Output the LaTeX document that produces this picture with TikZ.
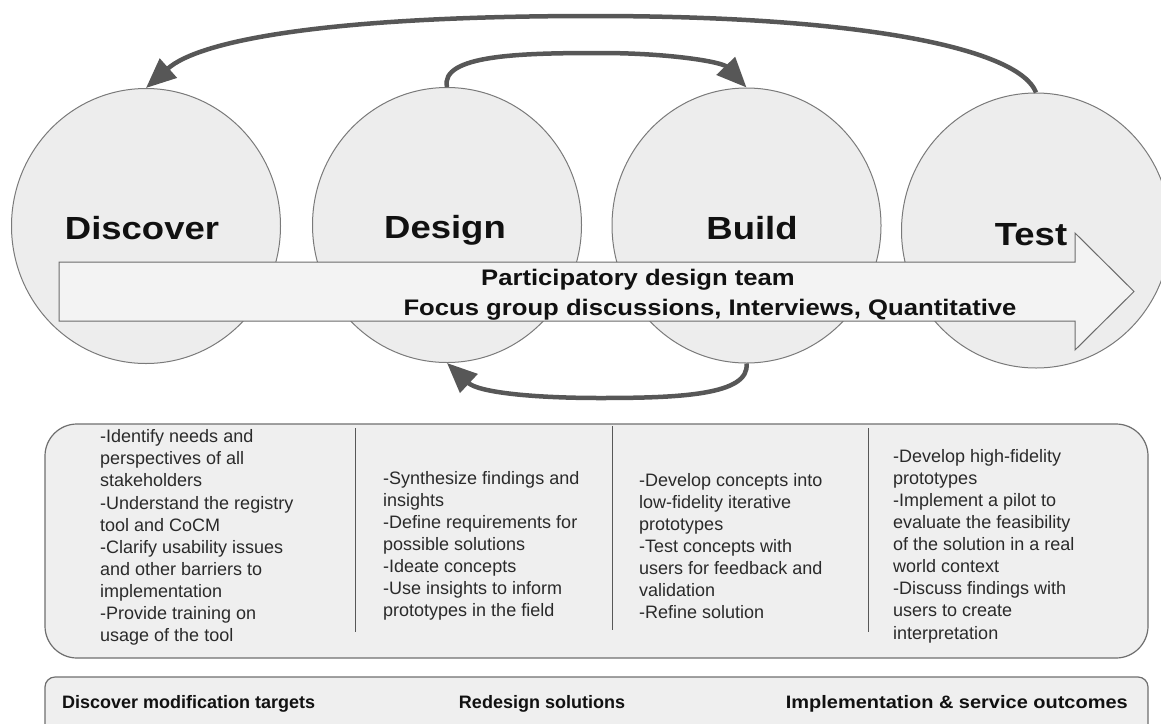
\documentclass[tikz,border=0pt]{standalone}
\usepackage{fontspec}
\setmainfont{Liberation Sans}
\newfontfamily\titlefont[FakeStretch=1.14]{Liberation Sans}
\newfontfamily\widebarfont[FakeStretch=1.11]{Liberation Sans}
\usetikzlibrary{shapes.geometric,arrows.meta}
\definecolor{ellfill}{HTML}{EDEDED}
\definecolor{elldraw}{HTML}{7A7A7A}
\definecolor{arrfill}{HTML}{F3F3F3}
\definecolor{arrdraw}{HTML}{6B6B6B}
\definecolor{arccol}{HTML}{575757}
\definecolor{boxfill}{HTML}{EFEFEF}
\definecolor{boxdraw}{HTML}{6E6E6E}
\definecolor{txt}{HTML}{111111}
\definecolor{bodytxt}{HTML}{2A2A2A}
\begin{document}
\begin{tikzpicture}[x=1pt,y=-1pt,
  phase/.style={ellipse,draw=elldraw,fill=ellfill,line width=1pt,inner sep=0pt,
    minimum width=269pt,minimum height=275pt},
  title/.style={font=\titlefont\bfseries\fontsize{32}{38}\selectfont,anchor=base,inner sep=0pt,text=txt},
  atext/.style={font=\titlefont\bfseries\fontsize{22.5}{27}\selectfont,anchor=base,inner sep=0pt,text=txt},
  bigarrow/.style={draw=arrdraw,fill=arrfill,line width=1pt,line join=miter},
  cycleflow/.style={draw=arccol,line width=4.5pt,-{Triangle[length=30pt,width=25pt]}},
  panel/.style={draw=boxdraw,fill=boxfill,line width=1.2pt,inner sep=0pt},
  divider/.style={draw=arccol,line width=1pt},
  col/.style={font=\fontsize{18}{22.1}\selectfont,align=left,inner sep=0pt,anchor=west,text=bodytxt},
  bar/.style={font=\bfseries\fontsize{18}{22}\selectfont,inner sep=0pt,text=txt}]
\useasboundingbox (0,0) rectangle (1161,723);
\begin{scope}
\clip (0,0) rectangle (1161,723);
% phase ellipses
\node[phase] (discover) at (146,226) {};
\node[phase] (design) at (447,225) {};
\node[phase] (build) at (746.5,225.5) {};
\node[phase] (test) at (1036,230.5) {};
% big arrow
\draw[bigarrow] (59,262) -- (1075,262) -- (1075,233) -- (1134,291.5) -- (1075,350) -- (1075,321) -- (59,321) -- cycle;
% titles
\node[title] (tdiscover) at (142,239) {Discover};
\node[title] (tdesign) at (445,238) {Design};
\node[title] (tbuild) at (752,239) {Build};
\node[title] (ttest) at (1031,245) {Test};
\node[atext] (team) at (638,285) {Participatory design team};
\node[atext] (methods) at (710,315) {Focus group discussions, Interviews, Quantitative};
% cycle arcs
\draw[cycleflow] (test.north) .. controls (1020,50) and (870,16) .. (593,16)
  .. controls (330,16) and (200,40) .. (discover.north);
\draw[cycleflow] (design.north) .. controls (440,55) and (520,53) .. (600,53)
  .. controls (670,53) and (722,62) .. (build.north);
\draw[cycleflow] (build.south) .. controls (750,395) and (680,398) .. (600,398)
  .. controls (530,398) and (478,392) .. (design.south);
% activity panel
\node[panel,rounded corners=32pt,minimum width=1103pt,minimum height=234pt] (activities) at (596.5,541) {};
\draw[divider] (355,428) -- (355,632);
\draw[divider] (612,426) -- (612,630);
\draw[divider] (868,428) -- (868,632);
\node[col] (c1) at (100,537.5) {-Identify needs and\\perspectives of all\\stakeholders\\-Understand the registry\\tool and CoCM\\-Clarify usability issues\\and other barriers to\\implementation\\-Provide training on\\usage of the tool};
\node[col] (c2) at (383,546) {-Synthesize findings and\\insights\\-Define requirements for\\possible solutions\\-Ideate concepts\\-Use insights to inform\\prototypes in the field};
\node[col] (c3) at (639,546) {-Develop concepts into\\low-fidelity iterative\\prototypes\\-Test concepts with\\users for feedback and\\validation\\-Refine solution};
\node[col] (c4) at (893,546) {-Develop high-fidelity\\prototypes\\-Implement a pilot to\\evaluate the feasibility\\of the solution in a real\\world context\\-Discuss findings with\\users to create\\interpretation};
% outcome bar
\node[panel,rounded corners=10pt,minimum width=1103pt,minimum height=70pt] (outcomes) at (596.5,712) {};
\node[bar,anchor=base west] (o1) at (62,708) {Discover modification targets};
\node[bar,anchor=base] (o2) at (542,708) {Redesign solutions};
\node[bar,anchor=base east,font=\widebarfont\bfseries\fontsize{18}{22}\selectfont] (o3) at (1128,708) {Implementation \& service outcomes};
\end{scope}
\end{tikzpicture}
\end{document}
